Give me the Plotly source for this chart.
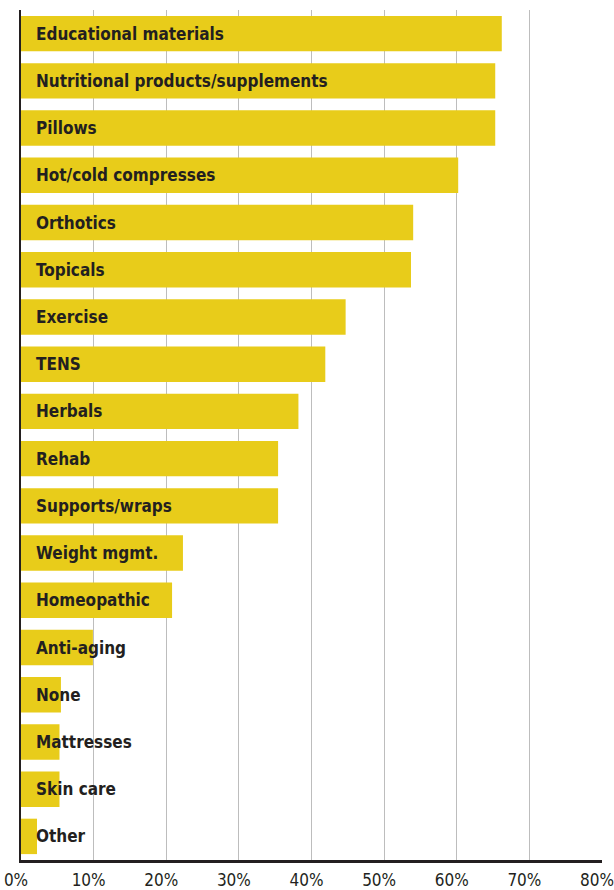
import plotly.graph_objects as go

# Share of respondents by product category (percent)
categories = [
    "Educational materials",
    "Nutritional products/supplements",
    "Pillows",
    "Hot/cold compresses",
    "Orthotics",
    "Topicals",
    "Exercise",
    "TENS",
    "Herbals",
    "Rehab",
    "Supports/wraps",
    "Weight mgmt.",
    "Homeopathic",
    "Anti-aging",
    "None",
    "Mattresses",
    "Skin care",
    "Other",
]
values = [66.2, 65.3, 65.3, 60.2, 54.0, 53.7, 44.7, 41.9, 38.2, 35.4, 35.4,
          22.3, 20.8, 9.9, 5.5, 5.3, 5.3, 2.2]

tick_values = [0, 10, 20, 30, 40, 50, 60, 70, 80]
tick_labels = ["0%", "10%", "20%", "30%", "40%", "50%", "60%", "70%", "80%"]

BAR_COLOR = "#E8CC1A"
INK = "#231F20"
LABEL_FONT = "DejaVu Sans Condensed, Roboto, sans-serif"

fig = go.Figure()
fig.add_trace(go.Bar(
    x=values,
    y=categories,
    orientation="h",
    marker=dict(color=BAR_COLOR, line=dict(width=0)),
    hoverinfo="skip",
))

# Category names sit inside the bars, starting just right of the baseline
for cat in categories:
    fig.add_annotation(
        x=0, y=cat, xref="x", yref="y",
        text="<b>%s</b>" % cat,
        showarrow=False, xanchor="left", yanchor="middle",
        xshift=13,
        font=dict(family=LABEL_FONT, size=17, color=INK),
    )

fig.update_layout(
    width=614, height=890,
    margin=dict(l=21, r=12, t=10, b=30, autoexpand=False),
    paper_bgcolor="white", plot_bgcolor="white",
    bargap=0.25,
    showlegend=False,
)
fig.update_xaxes(
    range=[0, 80],
    tickvals=tick_values, ticktext=tick_labels,
    showgrid=True, gridcolor="#BDBDBD", gridwidth=1,
    showline=True, linecolor=INK, linewidth=2.5,
    zeroline=False, ticks="",
    tickfont=dict(family=LABEL_FONT, size=17, color=INK),
    ticklabelshift=-5, ticklabelstandoff=3,
    ticklabeloverflow="allow",
    automargin=False,
    fixedrange=True,
)
fig.update_yaxes(
    categoryorder="array", categoryarray=categories[::-1],
    showticklabels=False, showgrid=False,
    showline=True, linecolor=INK, linewidth=2,
    zeroline=False, ticks="",
    range=[-0.5, len(categories) - 0.5],
    automargin=False,
    fixedrange=True,
)

fig.write_html("out.html", config={"displayModeBar": False})
